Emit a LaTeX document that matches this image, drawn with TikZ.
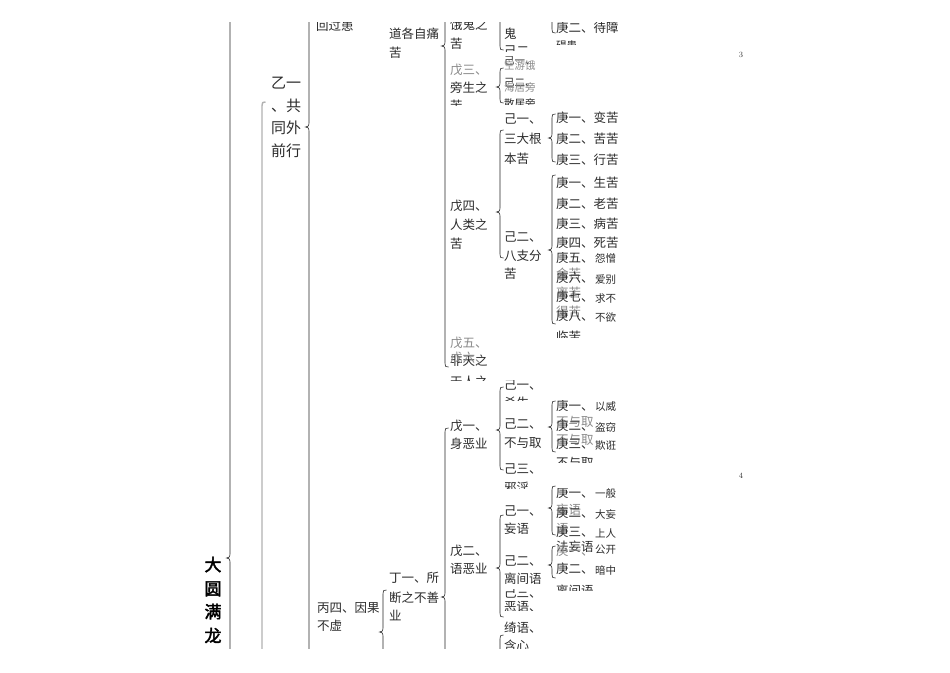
\documentclass[tikz,border=0pt]{standalone}
\usepackage{fontspec}
\newfontfamily\cjk{Noto Sans CJK SC}
\newfontfamily\cjkb[FakeBold=2.5]{Noto Sans CJK SC}
\definecolor{txt}{HTML}{2B2B2B}
\newcounter{lnc}
\newcommand\putt[4][]{\stepcounter{lnc}\node[t,#1] (L\arabic{lnc}) at (#2,#3) {#4};}
\newcommand\vbr[5][]{%
 \draw[br,#1] (#2+3.5,#3) .. controls (#2+0.5,#3) .. (#2,#3+4) -- (#2,#4-4)
   .. controls (#2,#4-1) .. (#2-3.5,#4) .. controls (#2,#4+1) .. (#2,#4+4)
   -- (#2,#5-4) .. controls (#2+0.5,#5) .. (#2+3.5,#5);}
\tikzset{
 t/.style={anchor=base west,inner sep=0pt,text=txt,font=\cjk\fontsize{12.5}{15}\selectfont},
 big/.style={font=\cjk\fontsize{15}{18}\selectfont},
 sm/.style={font=\cjk\fontsize{10.5}{12}\selectfont},
 ghost/.style={text=txt!55},
 br/.style={draw=black!85,line width=0.6pt},
 grayline/.style={draw=black!30,line width=1.4pt},
 title/.style={anchor=base,inner sep=0pt,text=black,font=\cjkb\fontsize{17}{20}\selectfont},
 pg/.style={inner sep=0pt,text=black!80,font=\fontsize{8}{9}\selectfont},
}
\begin{document}
\begin{tikzpicture}[x=1pt,y=-1pt]
\useasboundingbox[fill=white] (0,0) rectangle (950,672);
\begin{scope}
\clip (0,22) rectangle (950,648);
% ---------- braces ----------
\vbr{230}{-40}{558}{760}
\vbr[grayline]{262}{102}{760}{800}
\vbr{309}{-40}{127}{760}
\vbr{383}{590}{632}{760}
\vbr{445}{-40}{46}{367}
\vbr{445}{428}{597}{760}
\vbr{500}{-40}{-20}{50}
\vbr{500}{68}{87}{103}
\vbr{500}{130}{212}{258}
\vbr{500}{387}{430}{470}
\vbr{500}{515}{568}{617}
\vbr{500}{635}{700}{760}
\vbr{552}{-40}{-20}{33}
\vbr{552}{114}{138}{162}
\vbr{552}{175}{250}{324}
\vbr{552}{401}{427}{452}
\vbr{552}{486}{508}{535}
\vbr{552}{546}{565}{578}
% ---------- column A ----------
\putt[title]{213}{571}{大}
\putt[title]{213}{595}{圆}
\putt[title]{213}{618}{满}
\putt[title]{213}{642}{龙}
% ---------- column B ----------
\putt[big]{271}{88}{乙一}
\putt[big]{271}{111}{、共}
\putt[big]{271}{133}{同外}
\putt[big]{271}{156}{前行}
% ---------- column C ----------
\putt{316}{30}{回过患}
\putt{317}{612}{丙四、因果}
\putt{317}{630}{不虚}
% ---------- column D ----------
\putt{389}{38}{道各自痛}
\putt{389}{57}{苦}
\putt{389}{582}{丁一、所}
\putt{389}{602}{断之不善}
\putt{389}{620}{业}
% ---------- column E ----------
\putt{450}{29}{饿鬼之}
\putt{450}{48}{苦}
\begin{scope}
\clip (448,58) rectangle (497,105);
\putt[ghost]{450}{74}{戊三、}
\putt{450}{92}{旁生之}
\putt{450}{110}{苦}
\end{scope}
\putt{450}{210}{戊四、}
\putt{450}{229}{人类之}
\putt{450}{248}{苦}
\begin{scope}
\clip (448,332) rectangle (497,380);
\putt[ghost]{450}{347}{戊五、}
\putt{450}{365}{非天之}
\putt[ghost]{450}{362}{戊六、}
\putt{450}{386}{天人之}
\end{scope}
\putt{450}{430}{戊一、}
\putt{450}{448}{身恶业}
\putt{450}{555}{戊二、}
\putt{450}{573}{语恶业}
% ---------- column F ----------
\begin{scope}
\clip (502,22) rectangle (548,51);
\putt{504}{38}{鬼}
\putt{504}{55}{己二、}
\end{scope}
\begin{scope}
\clip (502,56) rectangle (548,104);
\putt[sm]{504}{64}{己一、}
\putt[sm,ghost]{504}{69}{空游饿}
\putt[sm]{504}{86}{己二、}
\putt[sm,ghost]{504}{91}{海居旁}
\putt[sm]{504}{107}{散居旁}
\end{scope}
\putt{504}{123}{己一、}
\putt{504}{143}{三大根}
\putt{504}{163}{本苦}
\putt{504}{241}{己二、}
\putt{504}{260}{八支分}
\putt{504}{278}{苦}
\begin{scope}
\clip (502,380) rectangle (548,400);
\putt{504}{389}{己一、}
\putt{504}{407}{杀生}
\end{scope}
\putt{504}{428}{己二、}
\putt{504}{447}{不与取}
\begin{scope}
\clip (502,455) rectangle (548,488);
\putt{504}{473}{己三、}
\putt{504}{492}{邪淫}
\end{scope}
\putt{504}{515}{己一、}
\putt{504}{533}{妄语}
\putt{504}{565}{己二、}
\putt{504}{583}{离间语}
\begin{scope}
\clip (502,589) rectangle (548,610);
\putt{504}{597}{己三、}
\putt{504}{611}{恶语、}
\end{scope}
\begin{scope}
\clip (502,621) rectangle (548,648);
\putt{504}{632}{绮语、}
\putt{504}{650}{含心}
\end{scope}
% ---------- column G ----------
\begin{scope}
\clip (550,0) rectangle (621,700);
\begin{scope}
\clip (550,22) rectangle (621,44);
\putt{556}{32}{庚二、待障}
\putt[sm]{556}{49}{碍患}
\end{scope}
\putt{556}{122}{庚一、变苦}
\putt{556}{143}{庚二、苦苦}
\putt{556}{164}{庚三、行苦}
\putt{556}{187}{庚一、生苦}
\putt{556}{208}{庚二、老苦}
\putt{556}{228}{庚三、病苦}
\putt{556}{247}{庚四、死苦}
\begin{scope}
\clip (550,252) rectangle (621,337);
\putt{556}{262}{庚五、}
\putt[sm]{595}{262}{怨憎}
\putt[ghost]{556}{278}{会苦}
\putt{556}{282}{庚六、}
\putt[sm]{595}{283}{爱别}
\putt[ghost]{556}{297}{离苦}
\putt{556}{301}{庚七、}
\putt[sm]{595}{302}{求不}
\putt[ghost]{556}{316}{得苦}
\putt{556}{320}{庚八、}
\putt[sm]{595}{321}{不欲}
\putt{556}{341}{临苦}
\end{scope}
\begin{scope}
\clip (550,400) rectangle (621,462);
\putt{556}{410}{庚一、}
\putt[sm]{595}{410}{以威}
\putt[ghost]{556}{426}{不与取}
\putt{556}{430}{庚二、}
\putt[sm]{595}{431}{盗窃}
\putt[ghost]{556}{444}{不与取}
\putt{556}{448}{庚三、}
\putt[sm]{595}{449}{欺诳}
\putt{556}{467}{不与取}
\end{scope}
\begin{scope}
\clip (550,488) rectangle (621,590);
\putt{556}{497}{庚一、}
\putt[sm]{595}{497}{一般}
\putt[ghost]{556}{514}{妄语}
\putt{556}{517}{庚二、}
\putt[sm]{595}{518}{大妄}
\putt[ghost]{556}{533}{语}
\putt{556}{536}{庚三、}
\putt[sm]{595}{537}{上人}
\putt{556}{551}{法妄语}
\putt[sm]{595}{553}{公开}
\putt[ghost]{556}{555}{庚一、}
\putt{556}{573}{庚二、}
\putt[sm]{595}{574}{暗中}
\putt{556}{595}{离间语}
\end{scope}
\end{scope}
\end{scope}
% ---------- page numbers ----------
\node[pg] (P3) at (741,55) {3};
\node[pg] (P4) at (741,476) {4};
\end{tikzpicture}
\end{document}
